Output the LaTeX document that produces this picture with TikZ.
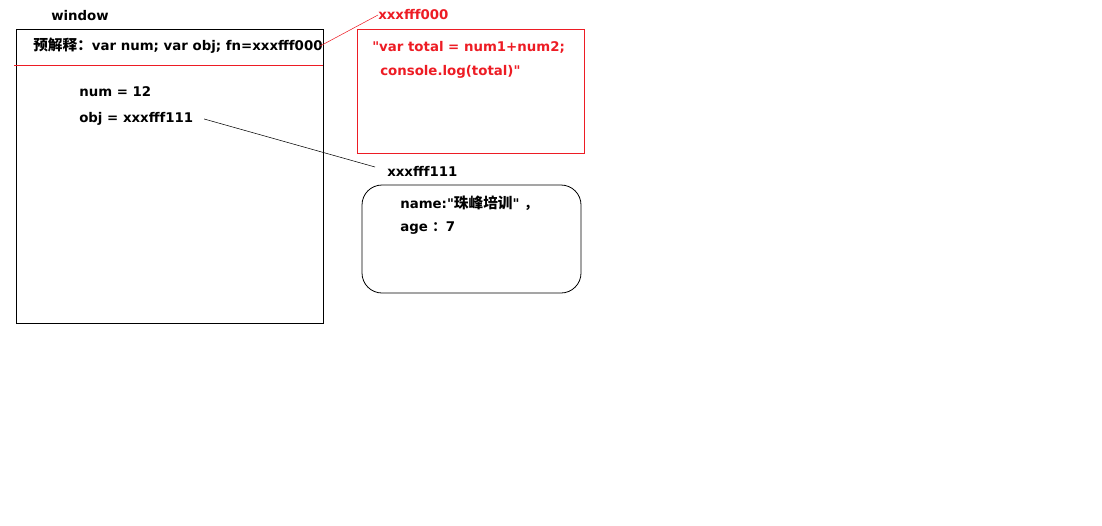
\documentclass[tikz,border=0pt]{standalone}
\usepackage{fontspec}
\setmainfont{DejaVu Sans}[Ligatures=TeXOff]
\newfontfamily\cjk{Noto Sans CJK SC}
\definecolor{paintred}{RGB}{237,28,36}
\usetikzlibrary{positioning}

\begin{document}
\begin{tikzpicture}[x=0.75pt, y=-0.75pt,
				txt/.style={anchor=west, inner sep=0pt, font=\bfseries\fontsize{10}{12}\selectfont},
				redtxt/.style={txt, text=paintred},
				box/.style={draw=black, semithick},
				redbox/.style={draw=paintred, thin}
			]
			\useasboundingbox (0,0) rectangle (1102,525);
			% window scope
			\node[txt] (window) at (51,16) {window};
			\draw[box] (16,29) rectangle (323,323);
			\draw[paintred, thin] (14,65) -- (323,65);
			\node[txt] (pre) at (33,46) {{\cjk\fontsize{11}{12}\selectfont 预解释：}var num; var obj; fn=xxxfff000};
			\node[txt] (num) at (79,92) {num = 12};
			\node[txt] (obj) at (79,119) {obj = xxxfff111};
			% function heap
			\node[redtxt] (fnaddr) at (378,15) {xxxfff000};
			\draw[redbox] (357,29) rectangle (584,153);
			\node[redtxt] (code1) at (372,47) {"var total = num1+num2;};
			\node[redtxt] (code2) at (380,72) {console.log(total)"};
			% object heap
			\node[txt] (objaddr) at (387,171) {xxxfff111};
			\draw[box, rounded corners=15] (362,185) rectangle (581,293);
			\node[txt] (name) at (400,203) {name:"{\cjk\fontsize{11}{12}\selectfont 珠峰培训}" {\cjk ，}};
			\node[txt] (age) at (400,228) {age {\cjk ：}7};
			\begin{scope}[thin]
			\draw[paintred] ([xshift=-2]pre.east) -- (fnaddr.west);
			\draw[black] ([xshift=8]obj.east) -- ([xshift=-9,yshift=3]objaddr.west);
			\end{scope}
			\end{tikzpicture}
\end{document}
